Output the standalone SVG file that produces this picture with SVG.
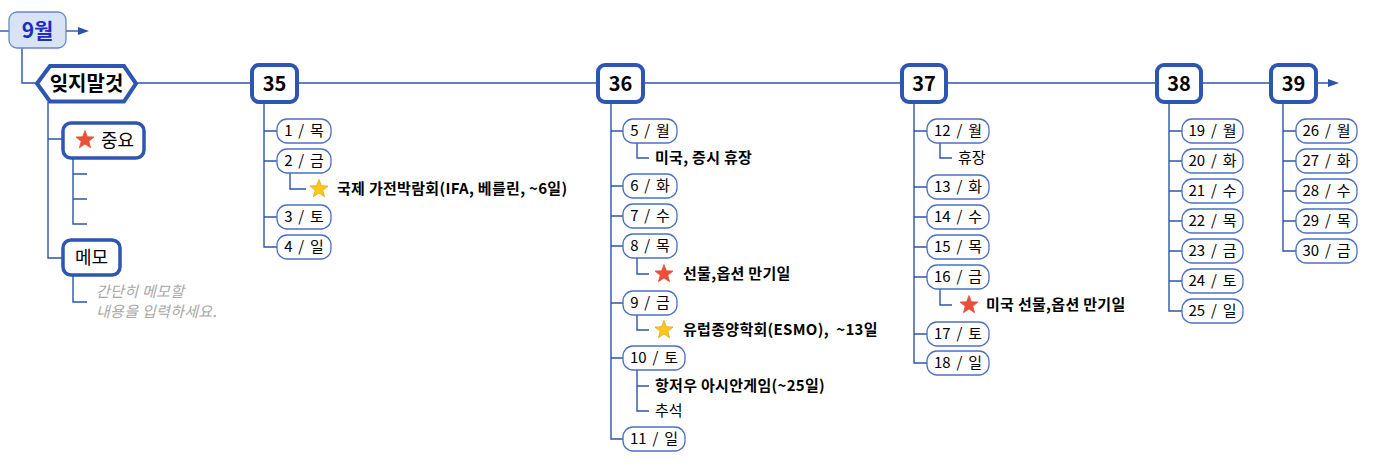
<svg xmlns="http://www.w3.org/2000/svg" width="1374" height="468" viewBox="0 0 1374 468">
<defs>
<style>
text{font-family:"Noto Sans CJK KR","Liberation Sans",sans-serif;fill:#000}
.ln{fill:none;stroke:#2b55aa;stroke-width:1.4}
.wk{fill:#fff;stroke:#2c56b0;stroke-width:4}
.wt{font-size:20px;font-weight:bold;text-anchor:middle}
.dy{fill:#fff;stroke:#4a70c4;stroke-width:1.3}
.dt{font-size:15px;text-anchor:middle;word-spacing:2.5px}
.lb{font-size:15px;font-weight:bold;letter-spacing:0.3px}
.lr{font-size:15px}
.memo{font-size:15px;font-style:italic;fill:#a8a8a8;letter-spacing:0.3px}
</style>
<marker id="arr" markerWidth="12" markerHeight="10" refX="0" refY="5" orient="auto" markerUnits="userSpaceOnUse">
<path d="M0,1 L11,5 L0,9 Z" fill="#2b55aa"/>
</marker>
<path id="star" d="M0,-9.5 L2.35,-3.24 L9.04,-2.94 L3.8,1.24 L5.58,7.69 L0,4 L-5.58,7.69 L-3.8,1.24 L-9.04,-2.94 L-2.35,-3.24 Z" stroke-linejoin="round"/>
</defs>
<rect width="1374" height="468" fill="#fff"/>
<g id="connectors">
<path class="ln" d="M0,31 H9"/>
<path class="ln" d="M66,31 H78" marker-end="url(#arr)"/>
<path class="ln" d="M22,48 V83 H37"/>
<path class="ln" d="M137,83 H1328" marker-end="url(#arr)"/>
<path class="ln" d="M48,102 V258 H62 M48,139 H62"/>
<path class="ln" d="M73,158 V224 H87 M73,174 H87 M73,199 H87"/>
<path class="ln" d="M73,276 V302 H87"/>
<path class="ln" d="M264,103 V247 H277 M264,131 H277 M264,161 H277 M264,217 H277"/>
<path class="ln" d="M290,173 V189 H306"/>
<path class="ln" d="M611,103 V439 H623 M611,131 H623 M611,186 H623 M611,216 H623 M611,246 H623 M611,303 H623 M611,358 H623"/>
<path class="ln" d="M637,143 V158 H649 M637,258 V274 H649 M637,315 V330 H649 M637,370 V411 H649 M637,386 H649"/>
<path class="ln" d="M914,103 V363 H927 M914,131 H927 M914,187 H927 M914,217 H927 M914,247 H927 M914,277 H927 M914,334 H927"/>
<path class="ln" d="M940,143 V158 H952 M940,289 V305 H952"/>
<path class="ln" d="M1169,103 V311 H1182 M1169,131 H1182 M1169,161 H1182 M1169,191 H1182 M1169,221 H1182 M1169,251 H1182 M1169,281 H1182"/>
<path class="ln" d="M1283,103 V251 H1296 M1283,131 H1296 M1283,161 H1296 M1283,191 H1296 M1283,221 H1296"/>
</g>
<g id="n-9wol">
<rect x="9" y="12" width="57" height="36" rx="8" fill="#d8e3f6" stroke="#6688cc" stroke-width="1.3"/>
<text x="37.5" y="38" style="font-size:21px;font-weight:bold;text-anchor:middle;fill:#1a2ec0">9월</text>
</g>
<g id="n-ijjimalgeot">
<polygon points="37,83.5 50,66 124,66 136,83.5 124,101.5 50,101.5" fill="#fff" stroke="#2c56b0" stroke-width="4" stroke-linejoin="miter"/>
<text x="86.5" y="91" style="font-size:20px;font-weight:bold;text-anchor:middle">잊지말것</text>
</g>
<g id="n-jungyo">
<rect x="63" y="123" width="81" height="35" rx="8" class="wk" style="stroke-width:3.5"/>
<use href="#star" x="85" y="140" fill="#e8503a" stroke="#e8503a" stroke-width="0.8"/>
<text x="101" y="147" style="font-size:18px">중요</text>
</g>
<g id="n-memo">
<rect x="63" y="240" width="57" height="35" rx="8" class="wk" style="stroke-width:3.5"/>
<text x="91.5" y="264" style="font-size:18px;text-anchor:middle">메모</text>
<text x="96" y="297" class="memo">간단히 메모할</text>
<text x="96" y="317" class="memo">내용을 입력하세요.</text>
</g>
<g id="w35">
<rect x="252" y="65" width="45" height="37" rx="7" class="wk"/>
<text x="274.5" y="90.5" class="wt">35</text>
</g>
<g id="w35-days">
<rect x="277" y="119" width="54" height="24" rx="10" class="dy"/><text x="304" y="136" class="dt">1 / 목</text>
<rect x="277" y="149" width="54" height="24" rx="10" class="dy"/><text x="304" y="166" class="dt">2 / 금</text>
<use href="#star" x="319" y="189" fill="#f8c81c" stroke="#e8a317" stroke-width="0.8"/>
<text x="337" y="194" class="lb">국제 가전박람회(IFA, 베를린, ~6일)</text>
<rect x="277" y="205" width="54" height="24" rx="10" class="dy"/><text x="304" y="222" class="dt">3 / 토</text>
<rect x="277" y="235" width="54" height="24" rx="10" class="dy"/><text x="304" y="252" class="dt">4 / 일</text>
</g>
<g id="w36">
<rect x="598" y="65" width="45" height="37" rx="7" class="wk"/>
<text x="620.5" y="90.5" class="wt">36</text>
</g>
<g id="w36-days">
<rect x="623" y="119" width="54" height="24" rx="10" class="dy"/><text x="650" y="136" class="dt">5 / 월</text>
<text x="655" y="163" class="lb">미국, 증시 휴장</text>
<rect x="623" y="174" width="54" height="24" rx="10" class="dy"/><text x="650" y="191" class="dt">6 / 화</text>
<rect x="623" y="204" width="54" height="24" rx="10" class="dy"/><text x="650" y="221" class="dt">7 / 수</text>
<rect x="623" y="234" width="54" height="24" rx="10" class="dy"/><text x="650" y="251" class="dt">8 / 목</text>
<use href="#star" x="664" y="274" fill="#e8503a" stroke="#e8503a" stroke-width="0.8"/>
<text x="683" y="279" class="lb">선물,옵션 만기일</text>
<rect x="623" y="291" width="54" height="24" rx="10" class="dy"/><text x="650" y="308" class="dt">9 / 금</text>
<use href="#star" x="664" y="330" fill="#f8c81c" stroke="#e8a317" stroke-width="0.8"/>
<text x="683" y="335" class="lb" xml:space="preserve">유럽종양학회(ESMO),  ~13일</text>
<rect x="623" y="346" width="62" height="24" rx="10" class="dy"/><text x="654" y="363" class="dt">10 / 토</text>
<text x="655" y="391" class="lb">항저우 아시안게임(~25일)</text>
<text x="655" y="416" class="lr">추석</text>
<rect x="623" y="427" width="62" height="24" rx="10" class="dy"/><text x="654" y="444" class="dt">11 / 일</text>
</g>
<g id="w37">
<rect x="902" y="65" width="44" height="37" rx="7" class="wk"/>
<text x="924" y="90.5" class="wt">37</text>
</g>
<g id="w37-days">
<rect x="927" y="119" width="62" height="24" rx="10" class="dy"/><text x="958" y="136" class="dt">12 / 월</text>
<text x="958" y="163" class="lr">휴장</text>
<rect x="927" y="175" width="62" height="24" rx="10" class="dy"/><text x="958" y="192" class="dt">13 / 화</text>
<rect x="927" y="205" width="62" height="24" rx="10" class="dy"/><text x="958" y="222" class="dt">14 / 수</text>
<rect x="927" y="235" width="62" height="24" rx="10" class="dy"/><text x="958" y="252" class="dt">15 / 목</text>
<rect x="927" y="265" width="62" height="24" rx="10" class="dy"/><text x="958" y="282" class="dt">16 / 금</text>
<use href="#star" x="969" y="305" fill="#e8503a" stroke="#e8503a" stroke-width="0.8"/>
<text x="986" y="310" class="lb">미국 선물,옵션 만기일</text>
<rect x="927" y="322" width="62" height="24" rx="10" class="dy"/><text x="958" y="339" class="dt">17 / 토</text>
<rect x="927" y="351" width="62" height="24" rx="10" class="dy"/><text x="958" y="368" class="dt">18 / 일</text>
</g>
<g id="w38">
<rect x="1157" y="65" width="44" height="37" rx="7" class="wk"/>
<text x="1179" y="90.5" class="wt">38</text>
</g>
<g id="w38-days">
<rect x="1182" y="119" width="61" height="24" rx="10" class="dy"/><text x="1212.5" y="136" class="dt">19 / 월</text>
<rect x="1182" y="149" width="61" height="24" rx="10" class="dy"/><text x="1212.5" y="166" class="dt">20 / 화</text>
<rect x="1182" y="179" width="61" height="24" rx="10" class="dy"/><text x="1212.5" y="196" class="dt">21 / 수</text>
<rect x="1182" y="209" width="61" height="24" rx="10" class="dy"/><text x="1212.5" y="226" class="dt">22 / 목</text>
<rect x="1182" y="239" width="61" height="24" rx="10" class="dy"/><text x="1212.5" y="256" class="dt">23 / 금</text>
<rect x="1182" y="269" width="61" height="24" rx="10" class="dy"/><text x="1212.5" y="286" class="dt">24 / 토</text>
<rect x="1182" y="299" width="61" height="24" rx="10" class="dy"/><text x="1212.5" y="316" class="dt">25 / 일</text>
</g>
<g id="w39">
<rect x="1271" y="65" width="45" height="37" rx="7" class="wk"/>
<text x="1293.5" y="90.5" class="wt">39</text>
</g>
<g id="w39-days">
<rect x="1296" y="119" width="61" height="24" rx="10" class="dy"/><text x="1326.5" y="136" class="dt">26 / 월</text>
<rect x="1296" y="149" width="61" height="24" rx="10" class="dy"/><text x="1326.5" y="166" class="dt">27 / 화</text>
<rect x="1296" y="179" width="61" height="24" rx="10" class="dy"/><text x="1326.5" y="196" class="dt">28 / 수</text>
<rect x="1296" y="209" width="61" height="24" rx="10" class="dy"/><text x="1326.5" y="226" class="dt">29 / 목</text>
<rect x="1296" y="239" width="61" height="24" rx="10" class="dy"/><text x="1326.5" y="256" class="dt">30 / 금</text>
</g>
</svg>
